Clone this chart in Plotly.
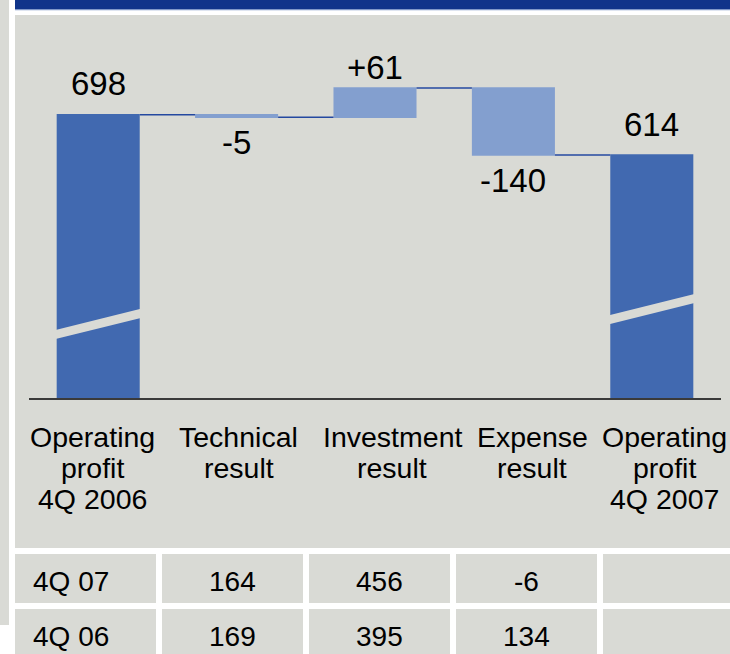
import plotly.graph_objects as go

# ---------------- data ----------------
category_lines = [
    ["Operating", "profit", "4Q 2006"],
    ["Technical", "result"],
    ["Investment", "result"],
    ["Expense", "result"],
    ["Operating", "profit", "4Q 2007"],
]
measures = ["absolute", "relative", "relative", "relative", "total"]
values = [698, -5, 61, -140, 614]
value_labels = ["698", "-5", "+61", "-140", "614"]

table_row_labels = ["4Q 07", "4Q 06"]
table_4q07 = ["164", "456", "-6", ""]
table_4q06 = ["169", "395", "134", ""]

# ---------------- style ----------------
W, H = 730, 654
FONT = "Liberation Sans, Arial, sans-serif"
DARK = "#4169B0"
LIGHT = "#839FCF"
PANEL = "#D9DAD5"
NAVY = "#10348A"
CONN = "#2448A0"


def px(x):
    return x / W


def py(y):
    return 1 - y / H


fig = go.Figure()

xs = list(range(len(values)))
fig.add_trace(go.Waterfall(
    x=xs, y=values, measure=measures, width=0.6, base=0,
    totals=dict(marker=dict(color=DARK, line=dict(width=0))),
    increasing=dict(marker=dict(color=LIGHT, line=dict(width=0))),
    decreasing=dict(marker=dict(color=LIGHT, line=dict(width=0))),
    connector=dict(mode="between", line=dict(color=CONN, width=1.5)),
    textinfo="none", hoverinfo="skip", showlegend=False,
))

# running levels for labels
levels = []
run = 0
for m, v in zip(measures, values):
    if m == "absolute":
        run = v
    elif m == "relative":
        run += v
    levels.append(run)

annotations = []
for i, (m, v, lab, lev) in enumerate(zip(measures, values, value_labels, levels)):
    if m in ("absolute", "total"):
        shift = 31
    elif v >= 0:
        shift = 20
    else:
        shift = -25
    annotations.append(dict(
        x=i, y=lev, xref="x", yref="y", text=lab, showarrow=False,
        yanchor="middle", xanchor="center", yshift=shift,
        font=dict(family=FONT, size=33, color="black"),
    ))

label_xshift = [-6, 2, 17, 19, 13]
for i, lines in enumerate(category_lines):
    for k, line in enumerate(lines):
        annotations.append(dict(
            x=i, y=py(437 + 31 * k), xref="x", yref="paper", text=line,
            showarrow=False, xanchor="center", yanchor="middle",
            xshift=label_xshift[i],
            font=dict(family=FONT, size=28.5, color="black"),
        ))

# axis-break bands on the total bars
break_left = {0: 240, 4: 271}
break_rise = 43
break_thick = 19
shapes = [
    dict(type="rect", xref="paper", yref="paper", x0=px(0), x1=px(9),
         y0=py(625), y1=py(0), fillcolor=PANEL, line=dict(width=0), layer="below"),
    dict(type="rect", xref="paper", yref="paper", x0=px(15), x1=px(730),
         y0=py(548), y1=py(15), fillcolor=PANEL, line=dict(width=0), layer="below"),
    dict(type="rect", xref="paper", yref="paper", x0=px(15), x1=px(730),
         y0=py(9), y1=py(0), fillcolor=NAVY, line=dict(width=0), layer="below"),
    dict(type="rect", xref="paper", yref="paper", x0=px(15), x1=px(730),
         y0=py(10.2), y1=py(9), fillcolor="#8098C8", line=dict(width=0), layer="below"),
]
for i, yl in break_left.items():
    xl, xr = i - 0.33, i + 0.33
    yl2 = yl - break_rise * (0.03 / 0.6)
    yr2 = yl2 + break_rise * (0.66 / 0.6)
    h = break_thick / 2
    path = (f"M {xl},{yl2 - h} L {xr},{yr2 - h} L {xr},{yr2 + h} "
            f"L {xl},{yl2 + h} Z")
    shapes.append(dict(type="path", xref="x", yref="y", path=path,
                       fillcolor=PANEL, line=dict(width=0), layer="above"))

# ---------------- table (cells + texts from the lists) ----------------
col_left = 15
col_w = 141
col_gap = 6
row_top = [554, 609]
row_h = [49, 50]
text_mid = [581, 636.5]
rows = [[table_row_labels[0]] + table_4q07, [table_row_labels[1]] + table_4q06]
for r, row in enumerate(rows):
    for c, txt in enumerate(row):
        x0 = col_left + c * (col_w + col_gap)
        x1 = W if c == len(row) - 1 else x0 + col_w
        shapes.append(dict(type="rect", xref="paper", yref="paper",
                           x0=px(x0), x1=px(x1), y0=py(row_top[r] + row_h[r]),
                           y1=py(row_top[r]), fillcolor=PANEL,
                           line=dict(width=0), layer="below"))
        if not txt:
            continue
        if c == 0:
            annotations.append(dict(x=px(x0 + 16), y=py(text_mid[r]), xref="paper",
                                    yref="paper", text=txt, showarrow=False,
                                    xanchor="left", yanchor="middle",
                                    font=dict(family=FONT, size=28, color="black")))
        else:
            annotations.append(dict(x=px((x0 + x1) / 2), y=py(text_mid[r]),
                                    xref="paper", yref="paper", text=txt,
                                    showarrow=False, xanchor="center",
                                    yanchor="middle",
                                    font=dict(family=FONT, size=28, color="black")))

fig.update_layout(
    width=W, height=H, margin=dict(l=0, r=0, t=0, b=0),
    paper_bgcolor="white", plot_bgcolor=PANEL,
    showlegend=False,
    xaxis=dict(domain=[px(29), px(721)], range=[-0.5, 4.5], showticklabels=False,
               showgrid=False, zeroline=False, ticks="", showline=True,
               linecolor="#3a3a3a", linewidth=1.5, fixedrange=True),
    yaxis=dict(domain=[py(398), py(30)], range=[107, 875], visible=False,
               fixedrange=True),
    annotations=annotations, shapes=shapes,
)

fig.write_html("out.html", config={"displayModeBar": False},
               post_script="document.body.style.margin='0';document.body.style.overflow='hidden';")
